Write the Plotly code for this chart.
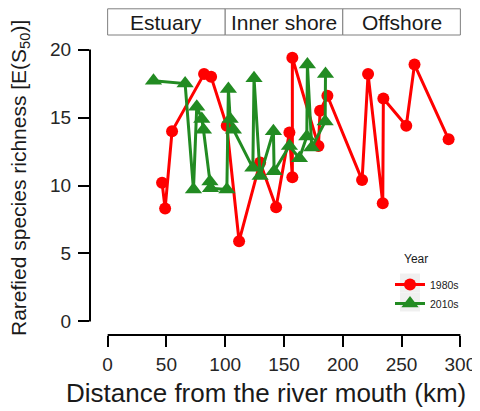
import plotly.graph_objects as go

# ---- data ----
km_1980 = [46.3, 48.9, 54.8, 82.0, 88.0, 101.3, 111.8, 129.7, 143.3, 154.6, 157.1, 157.1,
           179.3, 180.7, 186.9, 216.4, 221.5, 234.0, 234.5, 254.0, 261.0, 290.0]
rich_1980 = [10.2, 8.3, 14.0, 18.2, 18.0, 14.4, 5.9, 11.7, 8.4, 13.9, 10.6, 19.4,
             12.9, 15.5, 16.6, 10.4, 18.2, 8.7, 16.4, 14.4, 18.9, 13.4]

km_2010 = [39.0, 65.9, 73.0, 75.8, 80.1, 81.5, 87.0, 87.5, 101.4, 102.7, 104.2, 107.0,
           123.5, 124.5, 129.7, 141.0, 141.6, 154.6, 163.1, 169.4, 169.9, 173.6, 185.0, 185.3]
rich_2010 = [17.7, 17.5, 9.7, 15.8, 14.9, 14.1, 10.3, 9.8, 9.7, 17.1, 14.9, 14.1,
             11.3, 17.9, 10.7, 14.0, 11.05, 12.9, 12.0, 13.6, 18.9, 12.8, 14.7, 18.2]

regions = ["Estuary", "Inner shore", "Offshore"]
region_bounds = [0, 100, 200, 300]

x_ticks = [0, 50, 100, 150, 200, 250, 300]
y_ticks = [0, 5, 10, 15, 20]

X_RANGE = [-15, 315]
Y_RANGE = [-1, 21]

RED = "#FF0000"
GREEN = "#228B22"

# the page body shifts the figure by 8px; compensate in margins
OFF = 8
W, H = 480, 411
ML, MR, MT, MB = 82, 10, 28, 84
PW = W - ML - MR
PH = H - MT - MB

fig = go.Figure()
fig.add_trace(go.Scatter(
    x=km_1980, y=rich_1980, mode="lines+markers", name="1980s",
    line=dict(color=RED, width=3),
    marker=dict(symbol="circle", size=12, color=RED),
    cliponaxis=False,
))
fig.add_trace(go.Scatter(
    x=km_2010, y=rich_2010, mode="lines+markers", name="2010s",
    line=dict(color=GREEN, width=3),
    marker=dict(symbol="triangle-up", size=15, color=GREEN),
    cliponaxis=False,
))


def px(v):
    return (v - X_RANGE[0]) / (X_RANGE[1] - X_RANGE[0])


def py(v):
    return (v - Y_RANGE[0]) / (Y_RANGE[1] - Y_RANGE[0])


def pxp(pix):  # screenshot pixel x -> paper
    return (pix - OFF - ML) / PW


def pyp(pix):  # screenshot pixel y -> paper
    return (H - MB - (pix - OFF)) / PH


shapes = []
annotations = []
# capped axis lines
shapes.append(dict(type="line", xref="paper", yref="paper",
                   x0=px(x_ticks[0]), x1=px(x_ticks[-1]), y0=0, y1=0,
                   line=dict(color="black", width=2)))
shapes.append(dict(type="line", xref="paper", yref="paper",
                   x0=0, x1=0, y0=py(y_ticks[0]), y1=py(y_ticks[-1]),
                   line=dict(color="black", width=2)))
# region strip boxes
for i, name in enumerate(regions):
    x0 = px(region_bounds[i])
    x1 = px(region_bounds[i + 1])
    shapes.append(dict(type="rect", xref="paper", yref="paper",
                       x0=x0, x1=x1, y0=pyp(35), y1=pyp(8.8),
                       line=dict(color="#7f7f7f", width=1), fillcolor="white"))
    annotations.append(dict(text=name, xref="paper", yref="paper",
                            x=(x0 + x1) / 2, y=pyp(22), showarrow=False,
                            xanchor="center", yanchor="middle",
                            font=dict(size=21, color="#1a1a1a")))

# axis titles
annotations.append(dict(text="Distance from the river mouth (km)", xref="paper", yref="paper",
                        x=pxp(266), y=pyp(393), showarrow=False,
                        xanchor="center", yanchor="middle",
                        font=dict(size=26, color="#1a1a1a")))
annotations.append(dict(text="Rarefied species richness [E(S<sub>50</sub>)]",
                        xref="paper", yref="paper", textangle=-90,
                        x=pxp(20), y=pyp(178), showarrow=False,
                        xanchor="center", yanchor="middle",
                        font=dict(size=21, color="#1a1a1a")))

# legend (title + gray key backgrounds)
KEY_X = 410
ROW_Y = [283, 302]
annotations.append(dict(text="Year", xref="paper", yref="paper",
                        x=pxp(KEY_X - 8), y=pyp(259), showarrow=False,
                        xanchor="left", yanchor="middle",
                        font=dict(size=12, color="#1a1a1a")))
for ry in ROW_Y:
    shapes.append(dict(type="rect", xref="paper", yref="paper",
                       x0=pxp(KEY_X - 10), x1=pxp(KEY_X + 10),
                       y0=pyp(ry + 9.5), y1=pyp(ry - 9.5),
                       line=dict(width=0), fillcolor="#F0F0F0", layer="below"))

fig.update_layout(
    width=W, height=H,
    margin=dict(l=ML, r=MR, t=MT, b=MB),
    paper_bgcolor="white", plot_bgcolor="white",
    font=dict(family="Liberation Sans, Arial, sans-serif", color="#1a1a1a"),
    shapes=shapes, annotations=annotations,
    showlegend=True,
    legend=dict(
        x=pxp(KEY_X - 20), y=pyp(ROW_Y[0] - 13), xanchor="left", yanchor="top",
        bgcolor="rgba(0,0,0,0)", font=dict(size=10.5),
        tracegroupgap=0, itemwidth=30,
    ),
    xaxis=dict(range=X_RANGE, tickvals=x_ticks, showgrid=False, zeroline=False,
               showline=False, ticks="outside", ticklen=11, tickwidth=2,
               tickcolor="black", tickfont=dict(size=19, color="#262626"),
               ticklabelstandoff=1, automargin=False),
    yaxis=dict(range=Y_RANGE, tickvals=y_ticks, showgrid=False, zeroline=False,
               showline=False, ticks="outside", ticklen=11, tickwidth=2,
               tickcolor="black", tickfont=dict(size=19, color="#262626"),
               ticklabelstandoff=3, automargin=False),
)

fig.write_html("out.html")
